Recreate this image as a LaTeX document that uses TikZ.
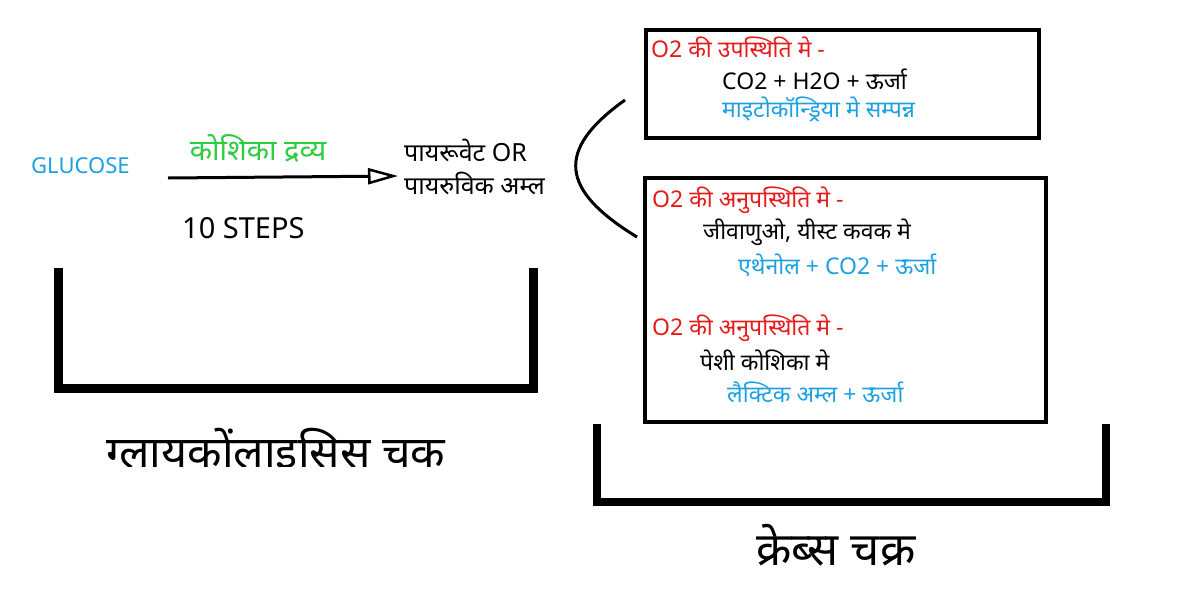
\documentclass[tikz,border=0pt]{standalone}
\usepackage{fontspec}
\setmainfont[Script=Devanagari]{Noto Sans}
\usetikzlibrary{arrows.meta}
\definecolor{cblue}{HTML}{1BA1E2}
\definecolor{cred}{HTML}{E51A1A}
\definecolor{cgreen}{HTML}{2ECC40}
\tikzset{x=1pt,y=-1pt,
 txt/.style={inner sep=0pt,anchor=west,font=\fontsize{23}{26}\selectfont},
 box/.style={draw,line width=4pt},
 brk/.style={line width=9pt},
}
\begin{document}
\begin{tikzpicture}
\useasboundingbox (0,0) rectangle (1183,589);
\node[txt,text=cblue,font=\fontsize{22}{26}\selectfont] (glu) at (31,166) {GLUCOSE};
\node[inner sep=0pt,text=cgreen,font=\fontsize{29}{32}\selectfont\bfseries] (kd) at (258,148) {कोशिका द्रव्य};
\coordinate (a1) at (168,178);
\coordinate (a2) at (398,176);
\draw[line width=3pt,-{Triangle[open,length=30pt,width=16pt,line width=2.5pt]}] (a1) -- (a2);
\node[txt,font=\fontsize{29}{32}\selectfont] (st) at (182,228) {10 STEPS};
\node[txt,font=\fontsize{25}{28}\selectfont] (p1) at (404,150) {पायरूवेट OR};
\node[txt,font=\fontsize{25}{28}\selectfont] (p2) at (404,183) {पायरुविक अम्ल};
% left bracket
\draw[brk] (58,268) -- (58,388) -- (533,388) -- (533,268);
\begin{scope}
\clip (0,0) rectangle (1183,466);
\node[inner sep=0pt,font=\fontsize{45}{50}\selectfont] (t1) at (276,452) {ग्लायकोंलाइसिस चक};
\end{scope}
% curve
\coordinate (c1) at (625,100);
\coordinate (c2) at (637,237);
\draw[line width=3pt] (c1) .. controls (555,150) and (560,190) .. (c2);
% boxes
\draw[box] (646,30) rectangle (1039,138);
\draw[box] (645,178) rectangle (1046,422);
\node[txt,text=cred] (r1) at (651,47) {O2 की उपस्थिति मे -};
\node[txt] (b1) at (722,79) {CO2 + H2O + ऊर्जा};
\node[txt,text=cblue] (m1) at (722,110) {माइटोकॉन्ड्रिया मे सम्पन्न};
\node[txt,text=cred] (r2) at (652,200) {O2 की अनुपस्थिति मे -};
\node[txt] (b2) at (703,232) {जीवाणुओ, यीस्ट कवक मे};
\node[txt,text=cblue] (m2) at (738,265) {एथेनोल + CO2 + ऊर्जा};
\node[txt,text=cred] (r3) at (652,328) {O2 की अनुपस्थिति मे -};
\node[txt] (b3) at (700,360) {पेशी कोशिका मे};
\node[txt,text=cblue] (m3) at (727,392) {लैक्टिक अम्ल + ऊर्जा};
% right bracket
\draw[line width=8pt] (597,424) -- (597,502) -- (1106,502) -- (1106,424);
\node[inner sep=0pt,font=\fontsize{46}{50}\selectfont] (t2) at (836,545) {क्रेब्स चक्र};
\end{tikzpicture}
\end{document}
